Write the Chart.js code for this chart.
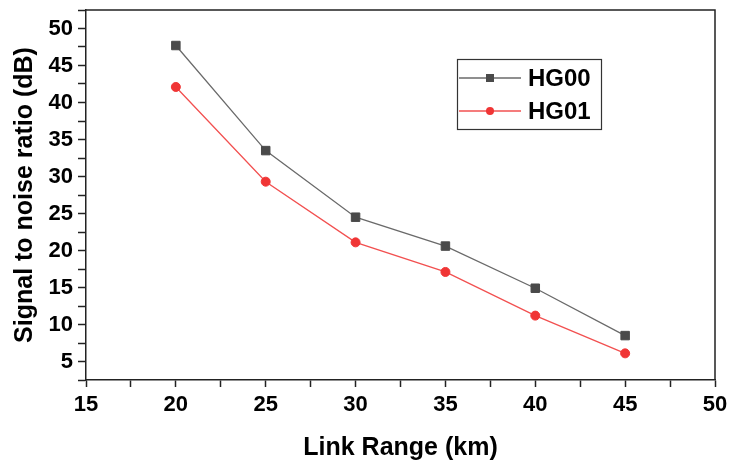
<!DOCTYPE html>
<html>
<head>
<meta charset="utf-8">
<script src="https://cdn.jsdelivr.net/npm/chart.js@4/dist/chart.umd.min.js"></script>
<style>
  html, body { margin: 0; padding: 0; background: #fff; }
  #wrap { width: 729px; height: 465px; }
</style>
</head>
<body>
<div id="wrap"><canvas id="snrChart" width="729" height="465"></canvas></div>
<script>
// data
const linkRange = [20, 25, 30, 35, 40, 45];
const hg00 = [47.7, 33.5, 24.5, 20.6, 14.9, 8.5];
const hg01 = [42.1, 29.3, 21.1, 17.1, 11.2, 6.1];
const seriesNames = ['HG00', 'HG01'];

const FONT = "'Liberation Sans', Arial, sans-serif";

function toPoints(ys) {
  return linkRange.map((x, i) => ({ x: x, y: ys[i] }));
}

// label only every 5, minor ticks in between
function majorOnly(v) {
  return Math.abs(v % 5) < 1e-6 ? String(v) : '';
}

// frame on top and right, like the Origin plot
const framePlugin = {
  id: 'frame',
  afterDraw(chart) {
    const { ctx, chartArea: a } = chart;
    ctx.save();
    ctx.strokeStyle = '#222';
    ctx.lineWidth = 1.5;
    ctx.beginPath();
    ctx.moveTo(a.left, a.top);
    ctx.lineTo(a.right, a.top);
    ctx.lineTo(a.right, a.bottom);
    ctx.stroke();
    ctx.restore();
  }
};

// boxed legend with line + marker samples
const legendBoxPlugin = {
  id: 'legendBox',
  afterDraw(chart) {
    const ctx = chart.ctx;
    ctx.save();
    ctx.strokeStyle = '#333';
    ctx.lineWidth = 1.2;
    ctx.strokeRect(457.5, 59.5, 144, 70);
    const rows = [
      { y: 78, color: '#6a6a6a', mark: '#4a4a4a', style: 'rect' },
      { y: 111, color: '#f25050', mark: '#f03535', style: 'circle' }
    ];
    rows.forEach((r, i) => {
      ctx.strokeStyle = r.color;
      ctx.lineWidth = 1.3;
      ctx.beginPath();
      ctx.moveTo(459, r.y);
      ctx.lineTo(521, r.y);
      ctx.stroke();
      ctx.fillStyle = r.mark;
      if (r.style === 'rect') {
        ctx.fillRect(486, r.y - 4, 8, 8);
      } else {
        ctx.beginPath();
        ctx.arc(490, r.y, 4, 0, Math.PI * 2);
        ctx.fill();
      }
      ctx.fillStyle = '#000';
      ctx.font = 'bold 24px ' + FONT;
      ctx.textBaseline = 'middle';
      ctx.fillText(seriesNames[i], 528, r.y + 1);
    });
    ctx.restore();
  }
};

new Chart(document.getElementById('snrChart').getContext('2d'), {
  type: 'line',
  data: {
    datasets: [
      {
        label: seriesNames[0],
        data: toPoints(hg00),
        borderColor: '#6a6a6a',
        borderWidth: 1.3,
        pointStyle: 'rect',
        pointRadius: 6,
        pointBackgroundColor: '#4a4a4a',
        pointBorderColor: '#4a4a4a',
        pointBorderWidth: 1,
        tension: 0
      },
      {
        label: seriesNames[1],
        data: toPoints(hg01),
        borderColor: '#f25050',
        borderWidth: 1.3,
        pointStyle: 'circle',
        pointRadius: 4.5,
        pointBackgroundColor: '#f03535',
        pointBorderColor: '#f03535',
        pointBorderWidth: 1,
        tension: 0
      }
    ]
  },
  options: {
    responsive: false,
    animation: false,
    layout: { padding: { top: 10, right: 14, left: 0, bottom: 0 } },
    plugins: {
      legend: { display: false },
      tooltip: { enabled: false }
    },
    scales: {
      x: {
        type: 'linear',
        min: 15,
        max: 50,
        afterFit(scale) {
          scale.height = 85;
          scale.paddingLeft = 0;
          scale.paddingRight = 0;
        },
        ticks: {
          stepSize: 2.5,
          autoSkip: false,
          maxRotation: 0,
          padding: 5,
          color: '#000',
          font: { family: FONT, size: 22, weight: 'bold' },
          callback: majorOnly
        },
        grid: {
          drawOnChartArea: false,
          tickLength: 7,
          tickColor: '#222',
          tickWidth: 1.5
        },
        border: { color: '#222', width: 1.5 },
        title: {
          display: true,
          text: 'Link Range (km)',
          color: '#000',
          font: { family: FONT, size: 25, weight: 'bold' },
          padding: { top: 0, bottom: 2 }
        }
      },
      y: {
        min: 2.5,
        max: 52.5,
        afterFit(scale) {
          scale.width = 86;
          scale.paddingTop = 0;
          scale.paddingBottom = 0;
        },
        ticks: {
          stepSize: 2.5,
          autoSkip: false,
          padding: 5,
          color: '#000',
          font: { family: FONT, size: 22, weight: 'bold' },
          callback: majorOnly
        },
        grid: {
          drawOnChartArea: false,
          tickLength: 8,
          tickColor: '#222',
          tickWidth: 1.5
        },
        border: { color: '#222', width: 1.5 },
        title: {
          display: true,
          text: 'Signal to noise ratio (dB)',
          color: '#000',
          font: { family: FONT, size: 25, weight: 'bold' },
          padding: { top: 10, bottom: 0 }
        }
      }
    }
  },
  plugins: [framePlugin, legendBoxPlugin]
});
</script>
</body>
</html>
